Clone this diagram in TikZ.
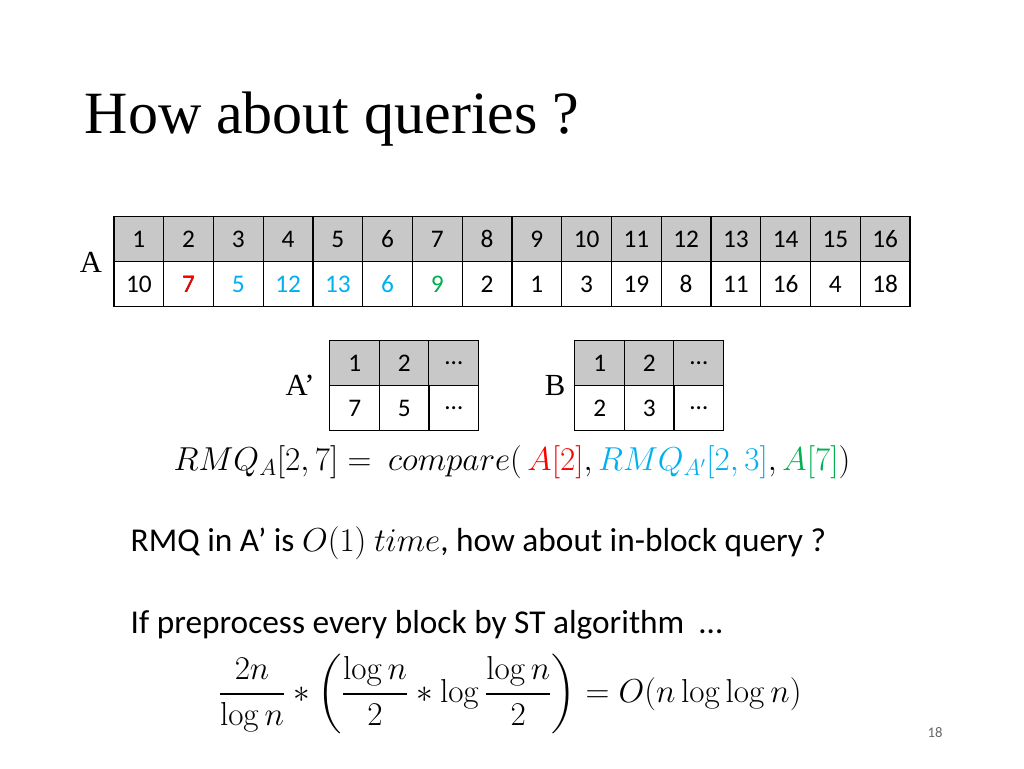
\documentclass[tikz,border=0pt]{standalone}
\usepackage{amsmath}
\usepackage[no-math]{fontspec}
\setmainfont{Carlito}
\newfontfamily\titlefont{Liberation Serif}
\usepackage{tikz}
\definecolor{hired}{HTML}{FF0000}
\definecolor{hicyan}{HTML}{00B0F0}
\definecolor{higreen}{HTML}{00B050}
\definecolor{headgray}{HTML}{C8C8C8}
\begin{document}
\begin{tikzpicture}[x=0.75pt,y=-0.75pt,
  cell/.style={draw=black,line width=0.9pt,minimum width=37.3pt,minimum height=33.5pt,inner sep=0pt,font=\fontsize{19}{22}\selectfont},
  head/.style={cell,fill=headgray},
  lbl/.style={font=\titlefont\fontsize{23}{26}\selectfont}]
			\useasboundingbox (0,0) rectangle (1024,768);
			\node[anchor=base west,font=\titlefont\fontsize{45}{50}\selectfont] (title) at (80,133) {How about queries ?};
			
			% array A
			
			\foreach \v [count=\i] in {10,7,5,12,13,6,9,2,1,3,19,8,11,16,4,18} {
				\node[head] (H\i) at ({114+49.75*(\i-0.5)},239) {\i};
				\node[cell] (V\i) at ({114+49.75*(\i-0.5)},284) {\v};
			}
			\node[text=hired] at (V2) {\fontsize{19}{22}\selectfont 7};
			\foreach \i in {3,...,6} {
				\node[cell,fill=white,text=hicyan] at (V\i) {\pgfmathparse{{10,7,5,12,13,6}[\i-1]}\pgfmathresult};
			}
			\node[cell,fill=white,text=higreen] at (V7) {9};
			\node[lbl] (A) at (91,262) {A};
			
			% A' and B
			
			\foreach \v [count=\i] in {7,5,\dots} {
				\node[head] (P\i) at ({330+49.5*(\i-0.5)},363) {\ifnum\i=3 \dots\else\i\fi};
				\node[cell] (Q\i) at ({330+49.5*(\i-0.5)},408) {\v};
			}
			\node[lbl] (Ap) at (300,385) {A’};
			\foreach \v [count=\i] in {2,3,\dots} {
				\node[head] (R\i) at ({575+49.5*(\i-0.5)},363) {\ifnum\i=3 \dots\else\i\fi};
				\node[cell] (S\i) at ({575+49.5*(\i-0.5)},408) {\v};
			}
			\node[lbl] (B) at (555,385) {B};
			
			% text
			
			\node[font=\fontsize{25}{28}\selectfont] (eq) at (512,462)
				{$RMQ_A[2,7] =\ compare(\,{\color{hired}A[2]}, {\color{hicyan}RMQ_{A'}[2,3]}, {\color{higreen}A[7]})$};
			\node[anchor=base west,font=\fontsize{25}{28}\selectfont] (t1) at (126,551)
				{RMQ in A’ is $O(1)\ time$, how about in-block query ?};
			\node[anchor=base west,font=\fontsize{25}{28}\selectfont] (t2) at (126,633)
				{If preprocess every block by ST algorithm \ \dots};
			\node[font=\fontsize{24}{28}\selectfont] (t3) at (510,694)
				{$\displaystyle \frac{2n}{\log n}*\left(\frac{\log n}{2}*\log\frac{\log n}{2}\right)=O(n\log\log n)$};
			\node[font=\fontsize{11}{13}\selectfont,text=black!60] (pg) at (935,733) {18};
		\end{tikzpicture}
\end{document}
